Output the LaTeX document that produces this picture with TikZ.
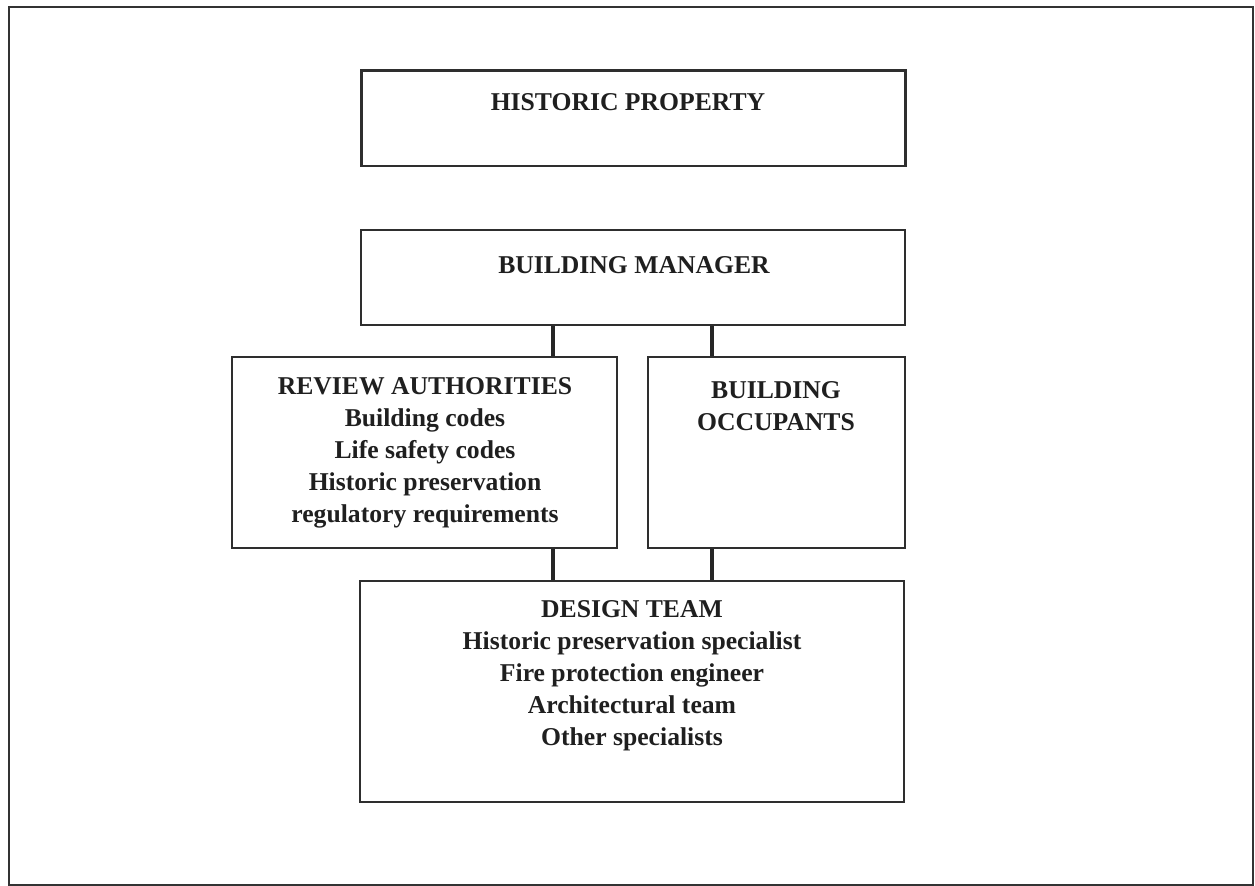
\documentclass[tikz,border=0pt]{standalone}
\usepackage{fontspec}
\setmainfont{Liberation Serif}
\usetikzlibrary{positioning}
\tikzset{
  box/.style={draw=black!82, line width=1.1pt, inner sep=0pt},
  txt/.style={font=\bfseries\fontsize{14.6}{18.2}\selectfont, align=center, text=black!88},
  link/.style={draw=black!85, line width=2.1pt}
}
\begin{document}
\begin{tikzpicture}[x=0.02cm, y=-0.02cm]
  \useasboundingbox (0,0) rectangle (1255,886);
  \draw [black!80, line width=1.1pt] (9,7) rectangle (1253,885);
  \node [box, line width=1.7pt, minimum width=10.9cm, minimum height=1.92cm] (hist) at (633.5,118) {};
  \node [box, line width=1.4pt, minimum width=10.88cm, minimum height=1.9cm] (mgr) at (633,277.5) {};
  \node [box, line width=0.8pt, minimum width=7.7cm, minimum height=3.82cm] (rev) at (424.5,452.5) {};
  \node [box, line width=0.9pt, minimum width=5.14cm, minimum height=3.82cm] (occ) at (776.5,452.5) {};
  \node [box, line width=0.9pt, minimum width=10.88cm, minimum height=4.42cm] (des) at (632,691.5) {};
  \node [txt] (histtxt) at (628,102) {HISTORIC PROPERTY};
  \node [txt] (mgrtxt) at (634,265) {BUILDING MANAGER};
  \node [txt] (revtxt) at (425,453) {REVIEW AUTHORITIES\\Building codes\\Life safety codes\\Historic preservation\\regulatory requirements};
  \node [txt] (occtxt) at (776,406) {BUILDING\\OCCUPANTS};
  \node [txt] (destxt) at (632,676) {DESIGN TEAM\\Historic preservation specialist\\Fire protection engineer\\Architectural team\\Other specialists};
  \coordinate (lft) at (553,0);
  \coordinate (rgt) at (712,0);
  \draw [link] (mgr.south -| lft) -- (rev.north -| lft);
  \draw [link] (mgr.south -| rgt) -- (occ.north -| rgt);
  \draw [link] (rev.south -| lft) -- (des.north -| lft);
  \draw [link] (occ.south -| rgt) -- (des.north -| rgt);
\end{tikzpicture}
\end{document}
